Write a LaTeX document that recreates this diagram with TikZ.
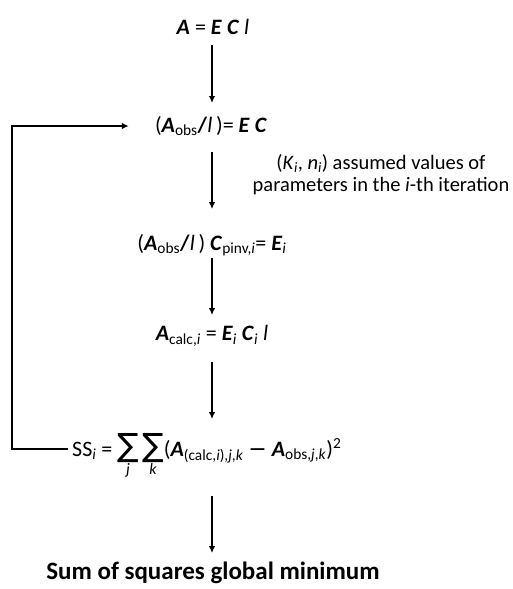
\documentclass[tikz,border=0pt]{standalone}
\usepackage{fontspec}
\setmainfont{Carlito}
\newfontfamily\dejavu{DejaVu Sans}
\usetikzlibrary{arrows.meta}
\newcommand{\bi}[1]{\textbf{\textit{#1}}}
\newcommand{\ssub}[1]{\textsubscript{#1}}
\newcommand{\sumsym}{\mbox{\dejavu\fontsize{32}{32}\selectfont ∑}}
\newcommand{\limtxt}[1]{\mbox{\fontsize{16}{16}\selectfont\textit{#1}}}
\begin{document}
\begin{tikzpicture}[x=1pt,y=-1pt,
  eq/.style={inner sep=0pt, font=\fontsize{22}{26}\selectfont},
  note/.style={inner sep=0pt, align=center, font=\fontsize{20.5}{22}\selectfont},
  final/.style={inner sep=0pt, font=\fontsize{25}{28}\selectfont\bfseries},
  arr/.style={line width=1.6pt, -{Latex[length=7pt,width=6.5pt]}}]
\useasboundingbox (0,0) rectangle (513,589);
\node[eq] (n1) at (213,27) {\bi{A} = \bi{E} \bi{C} \textit{l}};
\node[eq] (n2) at (211,126) {(\bi{A}\ssub{obs}\textbf{/}\textit{l}\,)= \bi{E} \bi{C}};
\node[note] (nt) at (381,175) {(\textit{K}\ssub{\textit{i}}, \textit{n}\ssub{\textit{i}}) assumed values of\\parameters in the \textit{i}-th iteration};
\node[eq] (n3) at (212,245) {(\bi{A}\ssub{obs}\textbf{/}\textit{l}\,) \bi{C}\ssub{pinv,\textit{i}}= \bi{E}\ssub{\textit{i}}};
\node[eq] (n4) at (212,336) {\bi{A}\ssub{calc,\textit{i}} = \bi{E}\ssub{\textit{i}} \bi{C}\ssub{\textit{i}} \textit{l}};
\node[eq, anchor=base west] (n5) at (72,456) {SS\ssub{\textit{i}} = $\mathop{\sumsym}\limits_{\limtxt{j}}\mathop{\sumsym}\limits_{\limtxt{k}}$(\bi{A}\ssub{(calc,\textit{i}),\textit{j},\textit{k}} {\dejavu −} \bi{A}\ssub{obs,\textit{j},\textit{k}})\textsuperscript{2}};
\node[final] (n6) at (213,573) {Sum of squares global minimum};
\coordinate (ss) at (212,449);
\coordinate (fbl) at (12,0);
\draw[arr, shorten <=18pt, shorten >=23pt] (n1.center -| ss) -- (n2.center -| ss);
\draw[arr, shorten <=26pt, shorten >=36pt] (n2.center -| ss) -- (n3.center -| ss);
\draw[arr, shorten <=13pt, shorten >=21pt] (n3.center -| ss) -- (n4.center -| ss);
\draw[arr, shorten <=26pt, shorten >=30pt] (n4.center -| ss) -- (ss);
\draw[arr, shorten <=47pt, shorten >=20pt] (ss) -- (n6.center -| ss);
\draw[arr, shorten <=4pt, shorten >=26pt] (n5.west |- ss) -- (fbl |- ss) -- (fbl |- n2.west) -- (n2.west);
\end{tikzpicture}
\end{document}
